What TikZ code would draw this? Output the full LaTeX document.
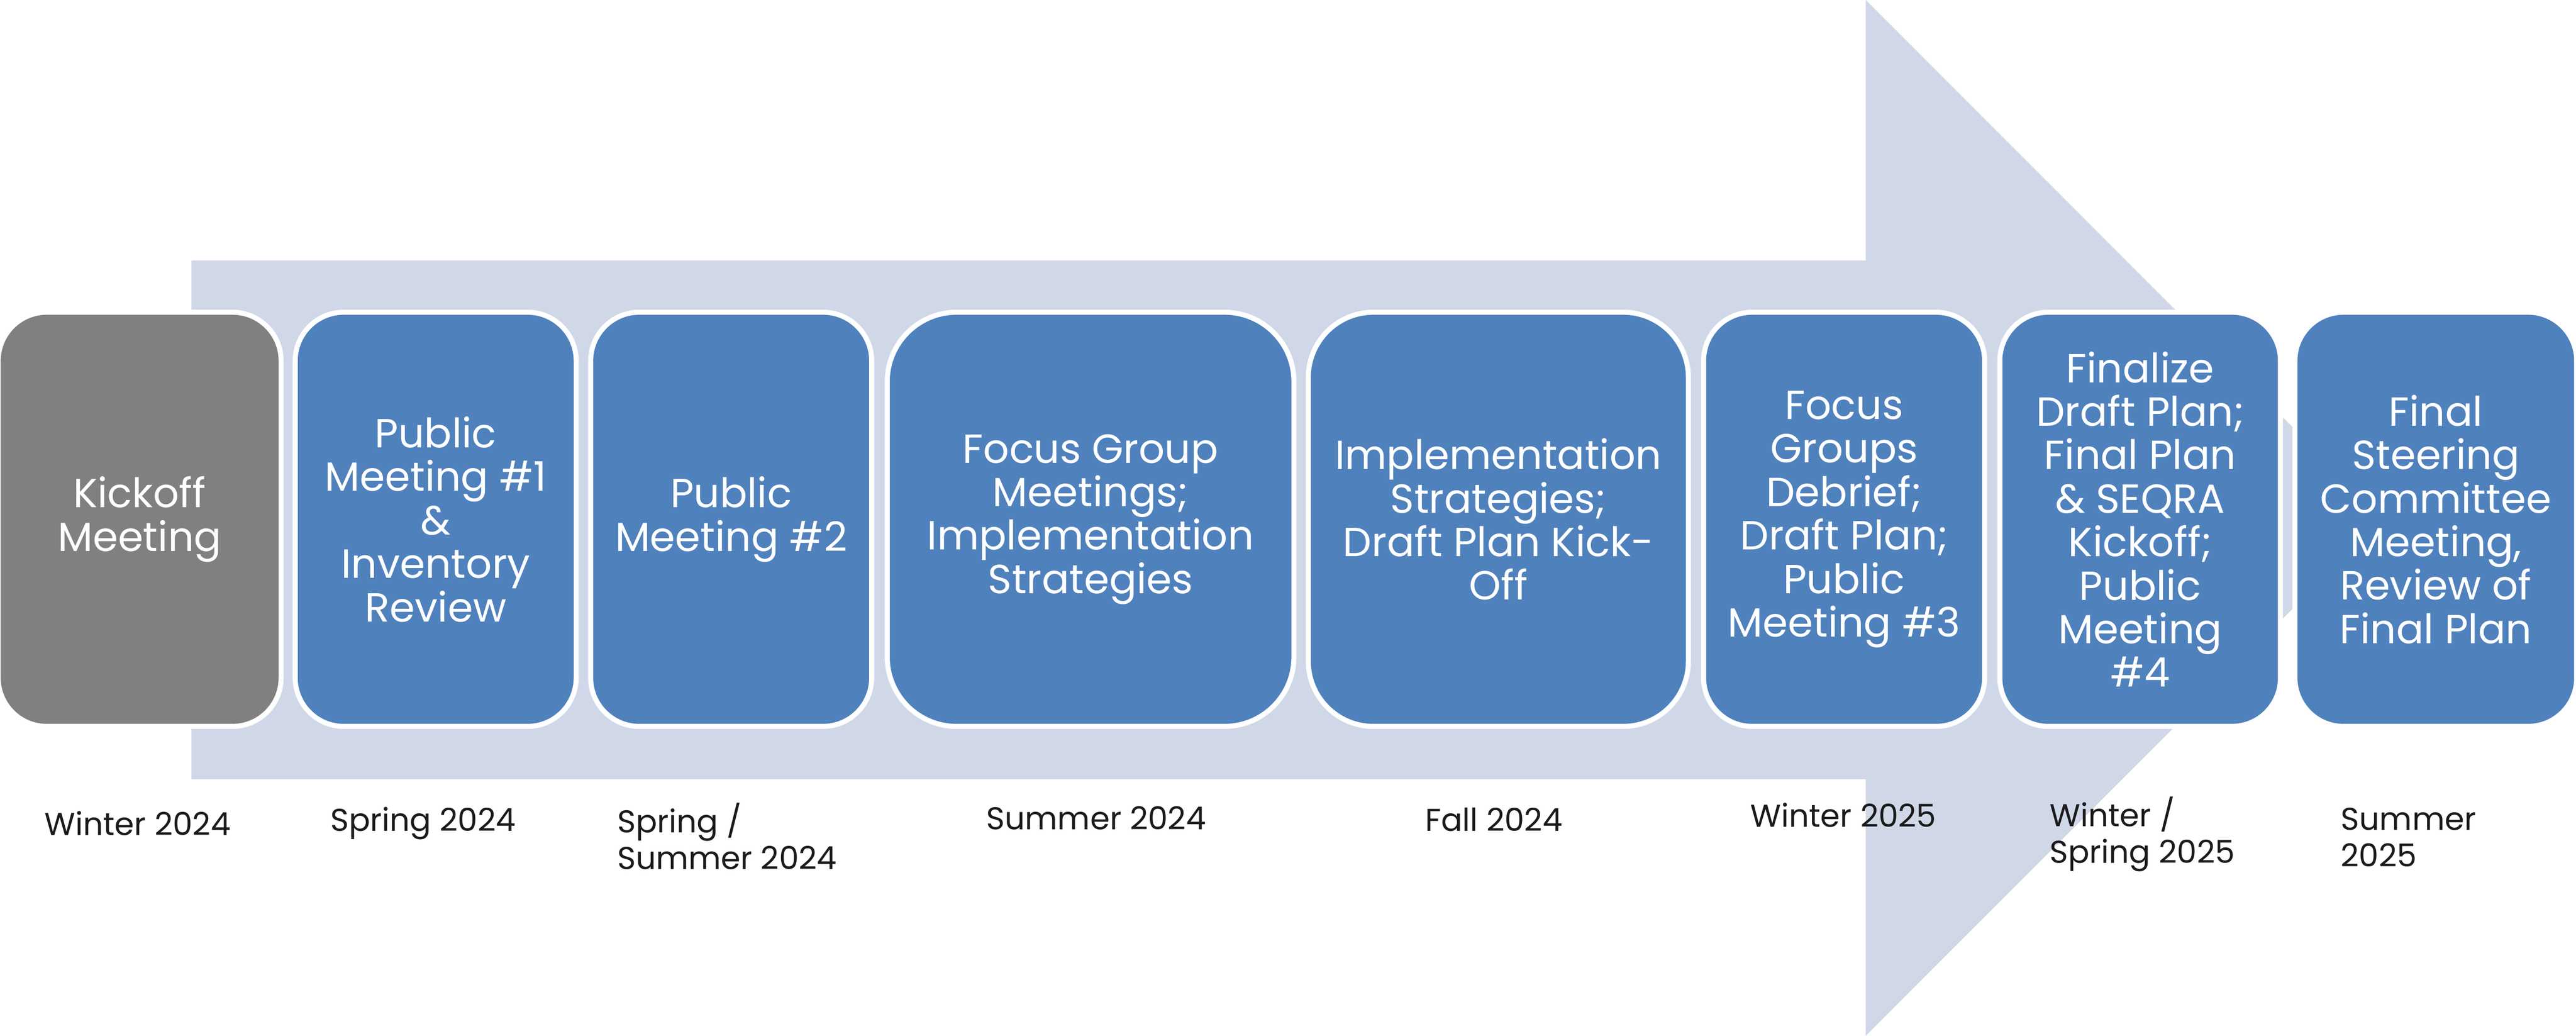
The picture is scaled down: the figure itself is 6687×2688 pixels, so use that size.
\documentclass[tikz,border=0pt]{standalone}
\usepackage{fontspec}
\setmainfont{Poppins}
\definecolor{arrowfill}{HTML}{D0D8E8}
\definecolor{boxblue}{HTML}{4F81BD}
\definecolor{boxgray}{HTML}{808080}
\definecolor{labelink}{HTML}{1A1A1A}
\begin{document}
\begin{tikzpicture}[x=0.01cm,y=-0.01cm,
  stepbox/.style={draw=white, line width=0.13cm, fill=boxblue, rounded corners=1.26cm,
    minimum height=10.74cm, minimum width=7.29cm, inner sep=0pt, align=center,
    text=white, font=\fontsize{30}{32.1}\selectfont},
  datelabel/.style={anchor=base west, align=left, inner sep=0pt,
    font=\fontsize{23.3}{27}\selectfont, text=labelink}]
\useasboundingbox (0,0) rectangle (6687,2688);
% background process arrow
\fill[arrowfill] (497,676) -- (4843,676) -- (4843,0) -- (6187,1344)
  -- (4843,2688) -- (4843,2022) -- (497,2022) -- cycle;
% steps
\node[stepbox, fill=boxgray, minimum width=7.34cm] (b1) at (362.5,1347.5) {Kickoff\\Meeting};
\node[stepbox] (b2) at (1131,1347.5) {Public\\Meeting \#1\\\&\\Inventory\\Review};
\node[stepbox] (b3) at (1898,1347.5) {Public\\Meeting \#2};
\node[stepbox, minimum width=10.55cm, rounded corners=1.8cm] (b4) at (2831,1347.5)
  {Focus Group\\Meetings;\\Implementation\\Strategies};
\node[stepbox, minimum width=9.86cm, rounded corners=1.69cm] (b5) at (3889.5,1347.5)
  {Implementation\\Strategies;\\Draft Plan Kick-\\Off};
\node[stepbox] (b6) at (4787,1347.5) {Focus\\Groups\\Debrief;\\Draft Plan;\\Public\\Meeting \#3};
\node[stepbox, minimum width=7.28cm] (b7) at (5555.5,1347.5)
  {Finalize\\Draft Plan;\\Final Plan\\\& SEQRA\\Kickoff;\\Public\\Meeting\\\#4};
\node[stepbox, minimum width=7.31cm] (b8) at (6323,1347.5)
  {Final\\Steering\\Committee\\Meeting,\\Review of\\Final Plan};
% dates (multi-line labels are anchored at the baseline of their last line)
\node[datelabel] (d1) at (115,2167) {Winter 2024};
\node[datelabel] (d2) at (857,2157) {Spring 2024};
\node[datelabel] (d3) at (1602,2255) {Spring /\\Summer 2024};
\node[datelabel] (d4) at (2560,2152) {Summer 2024};
\node[datelabel] (d5) at (3699,2157) {Fall 2024};
\node[datelabel] (d6) at (4543,2146) {Winter 2025};
\node[datelabel] (d7) at (5320,2240) {Winter /\\Spring 2025};
\node[datelabel] (d8) at (6076,2249) {Summer\\2025};
\end{tikzpicture}
\end{document}
